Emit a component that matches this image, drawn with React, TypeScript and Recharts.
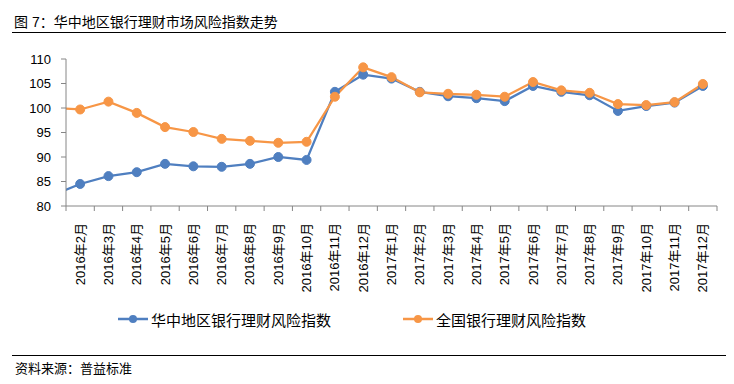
import { LineChart, Line, XAxis, YAxis, Legend } from 'recharts'

const months = [
  '2016年1月', '2016年2月', '2016年3月', '2016年4月', '2016年5月', '2016年6月',
  '2016年7月', '2016年8月', '2016年9月', '2016年10月', '2016年11月', '2016年12月',
  '2017年1月', '2017年2月', '2017年3月', '2017年4月', '2017年5月', '2017年6月',
  '2017年7月', '2017年8月', '2017年9月', '2017年10月', '2017年11月', '2017年12月',
]

// 华中地区
const centralIndex = [
  82.1, 84.5, 86.1, 86.9, 88.6, 88.1, 88.0, 88.6, 90.0, 89.4, 103.3, 106.8,
  106.0, 103.3, 102.4, 102.0, 101.4, 104.5, 103.3, 102.6, 99.4, 100.4, 101.1, 104.5,
]

// 全国
const nationalIndex = [
  100.0, 99.7, 101.3, 99.0, 96.1, 95.1, 93.7, 93.3, 92.9, 93.1, 102.3, 108.3,
  106.3, 103.2, 102.9, 102.7, 102.3, 105.3, 103.6, 103.1, 100.8, 100.6, 101.2, 104.9,
]

const seriesNames = ['华中地区银行理财风险指数', '全国银行理财风险指数']

const yTicks = [80, 85, 90, 95, 100, 105, 110]

const BLUE = '#4F7FC0'
const ORANGE = '#F79646'
const AXIS = '#868686'
const FONT = '"Liberation Sans", "Noto Sans CJK SC", sans-serif'

const data = months.map((m, i) => ({
  idx: i,
  month: m,
  central: centralIndex[i],
  national: nationalIndex[i],
}))

// labels sit on whole numbers, tick marks between them
const xTicks = months.flatMap((_, i) => (i === 0 ? [0.5] : [i, i + 0.5]))

function MonthTick(props: any) {
  const { x, y, payload } = props
  const v = payload.value
  if (v % 1 !== 0) {
    return <line x1={x} x2={x} y1={y} y2={y + 5} stroke={AXIS} />
  }
  return (
    <text
      transform={`translate(${x},${y + 17}) rotate(-90)`}
      textAnchor="end"
      dominantBaseline="central"
      fontSize={13}
      fontFamily={FONT}
      fill="#000"
    >
      {months[v]}
    </text>
  )
}

function LegendBox(props: any) {
  const items = [...(props.payload || [])].sort(
    (a: any, b: any) => seriesNames.indexOf(a.value) - seriesNames.indexOf(b.value)
  )
  const lefts = [118, 403]
  return (
    <div style={{ position: 'relative', width: 734, height: 30 }}>
      {items.map((it: any, i: number) => (
        <div
          key={it.value}
          style={{
            position: 'absolute',
            left: lefts[i],
            top: 0,
            height: 30,
            display: 'flex',
            alignItems: 'center',
          }}
        >
          <svg width={30} height={12} style={{ marginRight: 3 }}>
            <line x1={0} x2={30} y1={6} y2={6} stroke={it.color} strokeWidth={2.5} />
            <circle cx={15} cy={6} r={4} fill={it.color} />
          </svg>
          <span style={{ fontSize: 15, fontFamily: FONT, color: '#000' }}>{it.value}</span>
        </div>
      ))}
    </div>
  )
}

export default function App() {
  return (
    <div style={{ position: 'relative', width: 734, height: 384, margin: -8, background: '#fff' }}>
      <div
        style={{
          position: 'absolute',
          left: 14,
          top: 13,
          fontSize: 14,
          lineHeight: '18px',
          fontFamily: FONT,
          color: '#000',
        }}
      >
        图 7：华中地区银行理财市场风险指数走势
      </div>
      <div style={{ position: 'absolute', left: 12, right: 0, top: 32, borderTop: '1px solid #000' }} />

      <div style={{ position: 'absolute', left: 0, top: 0 }}>
        <LineChart
          width={734}
          height={384}
          data={data}
          margin={{ top: 59, right: 17, left: 0, bottom: 0 }}
        >
          <XAxis
            dataKey="idx"
            type="number"
            domain={[0.5, 23.5]}
            allowDataOverflow
            ticks={xTicks}
            interval={0}
            tickLine={false}
            tickSize={0}
            tickMargin={0}
            tick={<MonthTick />}
            height={178}
            stroke={AXIS}
          />
          <YAxis
            domain={[80, 110]}
            ticks={yTicks}
            interval={0}
            width={66}
            tickSize={5}
            tickMargin={10}
            stroke={AXIS}
            tick={{ fontSize: 13, fontFamily: FONT, fill: '#000' }}
          />
          <Legend
            layout="horizontal"
            verticalAlign="middle"
            align="center"
            wrapperStyle={{ top: 304, left: 0, width: 734 }}
            content={<LegendBox />}
          />
          <Line
            dataKey="central"
            name={seriesNames[0]}
            stroke={BLUE}
            strokeWidth={2.25}
            dot={{ r: 4.5, fill: BLUE, stroke: BLUE, strokeWidth: 1 }}
            isAnimationActive={false}
          />
          <Line
            dataKey="national"
            name={seriesNames[1]}
            stroke={ORANGE}
            strokeWidth={2.25}
            dot={{ r: 4.5, fill: ORANGE, stroke: ORANGE, strokeWidth: 1 }}
            isAnimationActive={false}
          />
        </LineChart>
      </div>

      <div style={{ position: 'absolute', left: 12, right: 0, top: 355, borderTop: '1px solid #000' }} />
      <div
        style={{
          position: 'absolute',
          left: 15,
          top: 361,
          fontSize: 13,
          lineHeight: '16px',
          fontFamily: FONT,
          color: '#000',
        }}
      >
        资料来源：普益标准
      </div>
    </div>
  )
}
